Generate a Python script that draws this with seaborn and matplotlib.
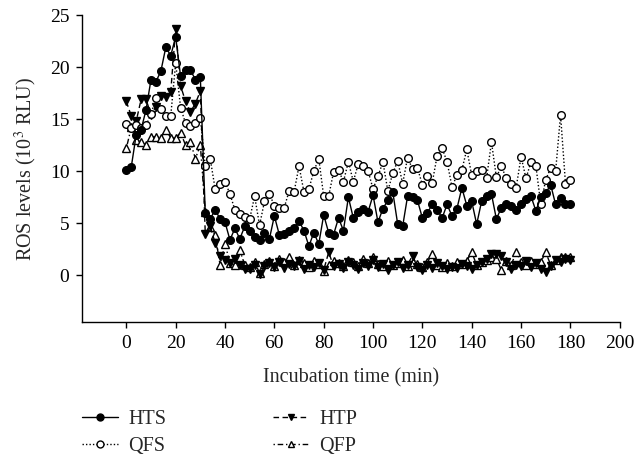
import numpy as np
import pandas as pd
import matplotlib
matplotlib.use("Agg")
import matplotlib.pyplot as plt
import seaborn as sns
from matplotlib.lines import Line2D

time_min = list(range(0, 181, 2))

hts = [10.1, 10.4, 13.5, 14.0, 15.9, 18.8, 18.6, 19.6, 21.9, 21.1, 22.9, 19.1, 19.7, 19.7, 18.8, 19.0,
       6.0, 5.4, 6.3, 5.4, 5.1, 3.4, 4.5, 3.5, 4.7, 4.3, 3.7, 3.4, 4.1, 3.5, 5.7, 3.9, 4.0, 4.3, 4.5, 5.2,
       4.3, 2.8, 4.1, 3.0, 5.8, 4.1, 3.9, 5.5, 4.3, 7.5, 5.5, 6.1, 6.4, 6.1, 7.7, 5.1, 6.4, 7.2, 8.0, 4.9,
       4.7, 7.6, 7.5, 7.2, 5.5, 6.0, 6.8, 6.3, 5.5, 6.8, 5.7, 6.4, 8.4, 6.7, 7.1, 4.9, 7.1, 7.6, 7.8, 5.4,
       6.5, 6.8, 6.7, 6.3, 6.8, 7.3, 7.6, 6.2, 7.5, 7.9, 8.7, 6.8, 7.4, 6.8, 6.8]

qfs = [14.5, 14.1, 14.4, 14.1, 14.4, 15.5, 17.0, 16.0, 15.3, 15.3, 20.4, 16.1, 14.6, 14.3, 14.6, 15.1,
       10.5, 11.2, 8.3, 8.8, 9.0, 7.8, 6.3, 5.9, 5.6, 5.4, 7.6, 4.8, 7.1, 7.8, 6.7, 6.5, 6.5, 8.1, 8.0, 10.5,
       8.0, 8.3, 10.0, 11.2, 7.6, 7.6, 9.9, 10.1, 9.0, 10.9, 9.0, 10.7, 10.5, 10.0, 8.3, 9.5, 10.9, 8.1, 9.8, 11.0,
       8.8, 11.3, 10.2, 10.3, 8.7, 9.5, 8.9, 11.5, 12.2, 10.9, 8.5, 9.6, 10.1, 12.1, 9.6, 10.0, 10.1, 9.3, 12.8, 9.4,
       10.5, 9.3, 8.8, 8.4, 11.4, 9.3, 10.9, 10.5, 6.8, 9.2, 10.3, 10.0, 15.4, 8.8, 9.2]

htp = [16.7, 15.3, 14.8, 16.9, 16.9, 15.4, 16.2, 17.2, 17.1, 17.6, 23.7, 18.2, 16.7, 15.7, 16.5, 17.7,
       4.0, 4.7, 3.1, 1.9, 1.5, 1.2, 1.6, 1.0, 0.6, 0.6, 1.0, 0.1, 0.9, 1.2, 0.8, 1.3, 0.7, 1.1, 0.9, 1.4,
       0.6, 1.0, 0.8, 1.2, 0.5, 2.2, 0.9, 1.1, 0.7, 1.3, 1.0, 0.6, 1.2, 0.9, 1.5, 0.8, 1.1, 0.5, 1.0, 1.3,
       0.7, 1.0, 1.9, 0.8, 0.5, 1.0, 0.7, 1.2, 0.9, 0.6, 0.8, 0.7, 1.1, 0.9, 0.6, 1.0, 1.3, 1.6, 2.0, 2.0,
       1.9, 1.3, 0.6, 1.0, 0.9, 1.4, 0.8, 1.2, 0.6, 0.3, 0.9, 1.5, 1.3, 1.6, 1.5]

qfp = [12.2, 14.2, 13.0, 12.8, 12.5, 13.3, 13.3, 13.2, 14.0, 13.2, 13.2, 13.7, 12.5, 12.8, 11.2, 12.5,
       6.1, 4.6, 3.9, 1.0, 3.0, 1.2, 1.0, 2.4, 1.0, 0.8, 1.3, 0.2, 1.1, 1.4, 0.9, 1.6, 1.3, 1.8, 1.0, 1.5,
       1.2, 0.8, 1.4, 1.1, 0.4, 1.0, 1.4, 1.2, 0.9, 1.5, 1.3, 0.9, 1.6, 1.2, 1.8, 1.1, 0.9, 1.4, 1.0, 1.2,
       1.5, 0.9, 1.3, 1.1, 0.8, 1.3, 2.0, 1.0, 0.8, 1.2, 0.9, 1.3, 1.1, 1.4, 2.2, 1.0, 1.3, 1.5, 1.8, 1.6,
       0.5, 1.4, 1.0, 2.2, 1.3, 1.0, 1.4, 1.1, 1.3, 2.2, 1.0, 1.5, 1.8, 1.8, 1.8]

series_names = ["HTS", "HTP", "QFS", "QFP"]
x_ticks = list(range(0, 201, 20))
y_ticks = list(range(0, 26, 5))

sns.set_theme(style="ticks")
plt.rcParams["font.family"] = ["Liberation Serif", "DejaVu Serif"]
plt.rcParams["mathtext.fontset"] = "stix"

fig = plt.figure(figsize=(6.35, 4.55), dpi=100)
ax = fig.add_axes([0.129, 0.292, 0.847, 0.675])

styles = {
    "HTS": dict(values=hts, marker="o", ls="-", mfc="black"),
    "HTP": dict(values=htp, marker="v", ls=(0, (4, 2.5)), mfc="black"),
    "QFS": dict(values=qfs, marker="o", ls=(0, (1, 1.5)), mfc="white"),
    "QFP": dict(values=qfp, marker="^", ls=(0, (1, 2, 4, 2)), mfc="white"),
}
draw_order = ["QFP", "HTP", "QFS", "HTS"]
for name in draw_order:
    st = styles[name]
    df = pd.DataFrame({"t": time_min, "v": st["values"]})
    sns.lineplot(data=df, x="t", y="v", ax=ax, color="black", linewidth=1.0,
                 linestyle=st["ls"], marker=st["marker"], markersize=5.5,
                 markerfacecolor=st["mfc"], markeredgecolor="black", markeredgewidth=1.0,
                 legend=False)

ax.set_xlim(-18, 200)
ax.set_ylim(-4.5, 25)
ax.set_xticks(x_ticks)
ax.set_yticks(y_ticks)
ax.tick_params(direction="out", length=4, width=1, labelsize=14, colors="black", pad=5)
for s in ["top", "right"]:
    ax.spines[s].set_visible(False)
for s in ["left", "bottom"]:
    ax.spines[s].set_linewidth(1.0)
    ax.spines[s].set_color("black")
ax.set_xlabel("Incubation time (min)", fontsize=14.5, labelpad=12)
ax.set_ylabel(r"ROS levels (10$^3$ RLU)", fontsize=14.5, labelpad=8)

handles = []
for name in ["HTS", "QFS", "HTP", "QFP"]:
    st = styles[name]
    handles.append(Line2D([0], [0], color="black", lw=1.0, linestyle=st["ls"],
                          marker=st["marker"], markersize=5, markerfacecolor=st["mfc"],
                          markeredgecolor="black", label=name))
fig.legend(handles=handles, labels=["HTS", "QFS", "HTP", "QFP"], ncol=2,
           loc="upper left", bbox_to_anchor=(0.129, 0.100), frameon=False,
           fontsize=14.5, handlelength=1.8, columnspacing=5.3, labelspacing=0.4,
           handletextpad=0.5, borderaxespad=0.0, borderpad=0.0)

fig.savefig("out.png", dpi=100)
